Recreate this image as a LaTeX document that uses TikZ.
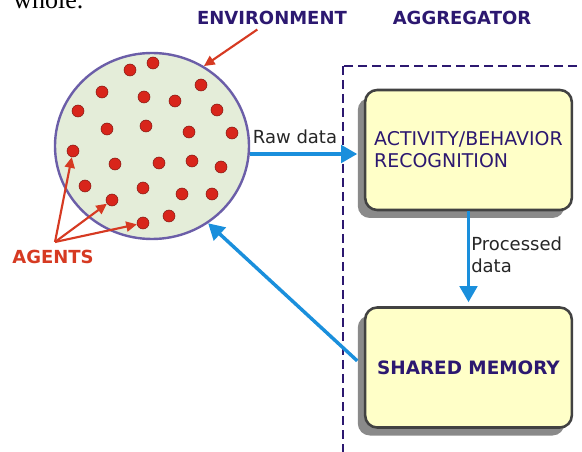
\documentclass[tikz,border=0pt]{standalone}
\usepackage{fontspec}
\setmainfont{DejaVu Sans}
\newfontfamily\serifbody{Liberation Serif}
\usetikzlibrary{arrows.meta}
\usetikzlibrary{shapes.geometric}
\usetikzlibrary{shadows}
\definecolor{envgreen}{HTML}{E4EDD9}
\definecolor{envrim}{HTML}{6B5EA8}
\definecolor{agentred}{HTML}{D8251B}
\definecolor{labelred}{HTML}{D63A22}
\definecolor{titleblue}{HTML}{2C1870}
\definecolor{flowblue}{HTML}{1A8FDC}
\definecolor{boxyellow}{HTML}{FFFFC8}
\definecolor{boxrim}{HTML}{424242}
\definecolor{boxshade}{HTML}{8A8A8A}
\tikzstyle{agent}=[circle, inner sep=0pt, minimum size=9pt, fill=agentred, draw=agentred!60!black, line width=.4pt]
\tikzstyle{title}=[font=\fontsize{13.5}{16}\selectfont\bfseries, text=titleblue]
\tikzstyle{block}=[rectangle, rounded corners=9pt, minimum width=155pt, minimum height=90pt, fill=boxyellow, draw=boxrim, line width=1.9pt, text=titleblue, font=\fontsize{14.2}{16.5}\selectfont, drop shadow={shadow xshift=-5.5pt, shadow yshift=-6pt, fill=boxshade, opacity=1}]
\tikzstyle{flow}=[line width=2.6pt, draw=flowblue, -{Triangle[length=12pt,width=13pt]}]
\tikzstyle{pointer}=[line width=1.6pt, draw=labelred, -{Triangle[length=8pt,width=7.5pt]}]
\tikzstyle{note}=[font=\fontsize{13.5}{16.5}\selectfont, text=black!85, inner sep=0pt]

\begin{document}
\begin{tikzpicture}[x=.75pt, y=-.75pt]
    \path[use as bounding box, clip] (0,0) rectangle (582,452);
    \node[anchor=base west, inner sep=0pt, font=\serifbody\fontsize{19.5}{22}\selectfont] (tail) at (13,9) {whole.};
    % aggregator frame, runs off the page
    \draw[titleblue, line width=1.8pt, dash pattern=on 6.5pt off 4pt] (343,66) rectangle (620,480);
    \node[ellipse, minimum width=145.5pt, minimum height=139.5pt, inner sep=0pt, fill=envgreen, draw=envrim, line width=1.8pt] (env) at (152,146) {};
    \foreach \x/\y [count=\i] in {130/70, 153/63, 102/92, 144/97, 175/101, 201/85, 78/111, 217/110, 107/129, 146/126, 189/132, 232/133, 73/151, 115/164, 159/163, 192/161, 221/167, 85/186, 143/188, 182/194, 212/194, 112/200, 143/223, 169/216}
        \node[agent] (a\i) at (\x,\y) {};
    \node[title] (envname) at (272,18) {ENVIRONMENT};
    \node[title] (aggname) at (462,18) {AGGREGATOR};
    \node[title, text=labelred] (agents) at (53,257) {AGENTS};
    \node[block, align=left] (recog) at (468.5,150) {ACTIVITY/BEHAVIOR\\RECOGNITION};
    \node[block, font=\fontsize{13.8}{16.5}\selectfont\bfseries] (memory) at (468.5,367.5) {SHARED MEMORY};
    \node[note] (raw) at (295,137) {Raw data};
    \node[note, anchor=west, align=left] (proc) at (471,255) {Processed\\data};
    \coordinate (fork) at (55,242);
    \draw[pointer] (fork) -- (a13);
    \draw[pointer] (fork) -- (a22);
    \draw[pointer] (fork) -- (a23);
    \draw[pointer] ([xshift=-11pt]envname.south) -- (env.57);
    \draw[flow, shorten >=5pt] ([yshift=-6pt]env.east) -- ([yshift=-6pt]env.east -| recog.west);
    \draw[flow, shorten >=3pt] (recog.south) -- (memory.north);
    \draw[flow] ([xshift=-5pt,yshift=5pt]memory.west) -- (env.-54.5);
\end{tikzpicture}
\end{document}
